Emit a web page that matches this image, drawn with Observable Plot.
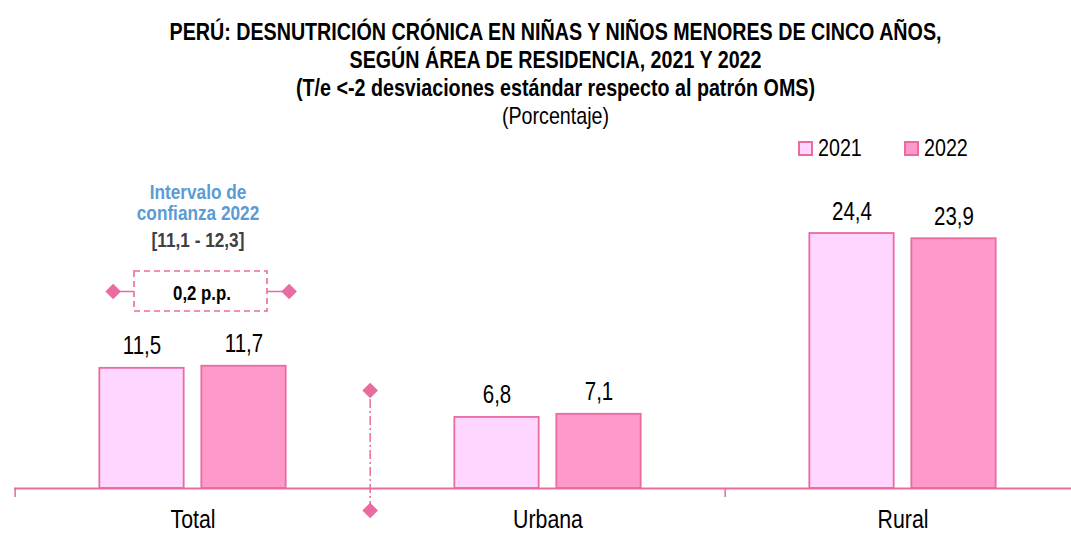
<!DOCTYPE html>
<html><head><meta charset="utf-8">
<script src="https://cdn.jsdelivr.net/npm/d3@7"></script>
<script src="https://cdn.jsdelivr.net/npm/@observablehq/plot@0.6"></script>
<style>
body{margin:0;background:#fff;font-family:"Liberation Sans Narrow","Arial Narrow","Liberation Sans",sans-serif;color:#000;}
#wrap{position:relative;width:1071px;height:534px;overflow:hidden;}
.t{position:absolute;left:40px;width:1031px;text-align:center;font-size:24px;line-height:28px;white-space:nowrap;transform:scaleX(0.82);transform-origin:50% 50%;}
.b{font-weight:bold;}
.sw{position:absolute;width:11px;height:11px;border:2px solid #E96B9F;}
.lt{position:absolute;font-size:24px;line-height:28px;white-space:nowrap;transform:scaleX(0.82);transform-origin:0 50%;}
#chart{position:absolute;left:0;top:128px;}
</style></head>
<body>
<div id="wrap">
  <div class="t b" style="top:18px">PERÚ: DESNUTRICIÓN CRÓNICA EN NIÑAS Y NIÑOS MENORES DE CINCO AÑOS,</div>
  <div class="t b" style="top:46px">SEGÚN ÁREA DE RESIDENCIA, 2021 Y 2022</div>
  <div class="t b" style="top:74px">(T/e &lt;-2 desviaciones estándar respecto al patrón OMS)</div>
  <div class="t" style="top:102px">(Porcentaje)</div>
  <div id="legend"></div>
  <div id="chart"></div>
</div>
<script>
const categories = ["Total", "Urbana", "Rural"];
const years = ["2021", "2022"];
const values2021 = [11.5, 6.8, 24.4];
const values2022 = [11.7, 7.1, 23.9];
const intervalTitle = ["Intervalo de", "confianza 2022"];
const intervalRange = ["[11,1 - 12,3]"];
const differenceLabel = ["0,2 p.p."];

const fills = {"2021": "#FFD6FF", "2022": "#FF99CC"};
const strokeColor = "#E96B9F";
const fmt = v => v.toFixed(1).replace(".", ",");

// legend
const legendLeft = [798, 904];
document.getElementById("legend").innerHTML = years.map((y, i) =>
  `<span class="sw" style="left:${legendLeft[i]}px;top:141px;background:${fills[y]}"></span>` +
  `<span class="lt" style="left:${legendLeft[i] + 20}px;top:134px">${y}</span>`).join("");

const rows2021 = categories.map((c, i) => ({cat: c, year: "2021", value: values2021[i]}));
const rows2022 = categories.map((c, i) => ({cat: c, year: "2022", value: values2022[i]}));

const W = 1071, H = 406, mL = 14, mB = 46, mT = 25.6;
const yMax = 32;
const ppu = (H - mB - mT) / yMax;          // pixels per unit
const bw = (1081 - mL) / categories.length; // band width
const barW = 85, gap = 17;
const in1L = bw / 2 - gap / 2 - barW, in1R = bw - in1L - barW;
const in2L = bw / 2 + gap / 2, in2R = bw - in2L - barW;
const px = p => p / ppu; // pixel offset to data units
const font = "Liberation Sans Narrow, Arial Narrow, Liberation Sans, sans-serif";
const diamond = {symbol: "diamond2", r: 7, fill: strokeColor, stroke: "none"};

const chart = Plot.plot({
  width: W, height: H,
  marginLeft: mL, marginRight: 0, marginTop: mT, marginBottom: mB,
  style: {fontFamily: font, background: "transparent", overflow: "visible"},
  x: {domain: categories, range: [mL, 1081], padding: 0, axis: null},
  y: {domain: [0, yMax], axis: null},
  marks: [
    Plot.barY(rows2021, {x: "cat", y: "value", fill: fills["2021"], stroke: strokeColor, strokeWidth: 1.8, insetLeft: in1L, insetRight: in1R}),
    Plot.barY(rows2022, {x: "cat", y: "value", fill: fills["2022"], stroke: strokeColor, strokeWidth: 1.8, insetLeft: in2L, insetRight: in2R}),
    Plot.text(rows2021, {x: "cat", y: "value", text: d => fmt(d.value), dx: -(gap / 2 + barW / 2), dy: -22, fontSize: 25, fill: "#000"}),
    Plot.text(rows2022, {x: "cat", y: "value", text: d => fmt(d.value), dx: gap / 2 + barW / 2, dy: -22, fontSize: 25, fill: "#000"}),
    Plot.ruleY([0], {stroke: strokeColor, strokeWidth: 2}),
    Plot.ruleX(["Total", "Rural"], {x: d => d, dx: -bw / 2, y1: 0, y2: -px(9), stroke: strokeColor, strokeWidth: 1.5}),
    Plot.text(categories, {x: d => d, y: 0, dy: 31, text: d => d, fontSize: 26, fill: "#000"}),
    // divider between Total and Urbana
    Plot.ruleX(["Urbana"], {x: d => d, dx: -bw / 2, y1: -px(22), y2: px(98), stroke: strokeColor, strokeWidth: 1.5, strokeDasharray: "9,3,2,3"}),
    Plot.dot([{cat: "Urbana", y: px(98)}, {cat: "Urbana", y: -px(22)}], {x: "cat", y: "y", dx: -bw / 2, ...diamond}),
    // confidence interval annotation
    Plot.text([intervalTitle[0]], {x: () => "Total", y: px(296), dx: 5, text: d => d, fontSize: 21, fontWeight: "bold", fill: "#5B9BD5"}),
    Plot.text([intervalTitle[1]], {x: () => "Total", y: px(275), dx: 5, text: d => d, fontSize: 21, fontWeight: "bold", fill: "#5B9BD5"}),
    Plot.text(intervalRange, {x: () => "Total", y: px(248), dx: 5, text: d => d, fontSize: 21, fontWeight: "bold", fill: "#404040"}),
    Plot.rect([0], {y1: px(177), y2: px(217), insetLeft: 120, insetRight: (W - mL) - 253, fill: "white", stroke: strokeColor, strokeWidth: 1.6, strokeDasharray: "6,4"}),
    Plot.ruleY([px(197)], {insetLeft: 98, insetRight: (W - mL) - 120, stroke: strokeColor, strokeWidth: 1.5}),
    Plot.ruleY([px(197)], {insetLeft: 253, insetRight: (W - mL) - 274, stroke: strokeColor, strokeWidth: 1.5}),
    Plot.dot([{cat: "Total", y: px(197)}], {x: "cat", y: "y", dx: 112 - (mL + bw / 2), ...diamond}),
    Plot.dot([{cat: "Total", y: px(197)}], {x: "cat", y: "y", dx: 288 - (mL + bw / 2), ...diamond}),
    Plot.text(differenceLabel, {x: () => "Total", y: px(195), dx: 9, text: d => d, fontSize: 20.5, fontWeight: "bold", fill: "#000"})
  ]
});
// condense text horizontally (Arial Narrow look)
chart.querySelectorAll("text").forEach(t => {
  const tr = t.getAttribute("transform");
  if (tr) t.setAttribute("transform", tr + " scale(0.82,1)");
  else {
    const x = t.getAttribute("x") || 0, y = t.getAttribute("y") || 0;
    t.removeAttribute("x"); t.removeAttribute("y");
    t.setAttribute("transform", `translate(${x},${y}) scale(0.82,1)`);
  }
});
document.getElementById("chart").appendChild(chart);
</script>
</body></html>
